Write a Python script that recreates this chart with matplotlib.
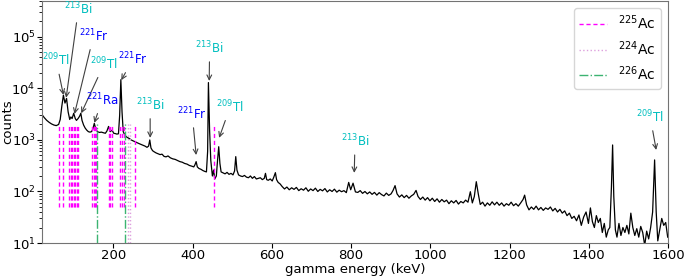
import numpy as np
import matplotlib
matplotlib.use("Agg")
import matplotlib.pyplot as plt

# spectrum (bin energy in keV, counts)
energy_low = [20, 26, 32, 38, 44, 50, 56, 62, 66, 70, 74, 78, 82, 86, 90, 93, 96, 100,
              104, 107, 111, 115, 118, 121, 125, 129, 133, 137, 141, 145, 148, 152, 156,
              160, 165, 170, 175, 180, 184, 188, 192, 197, 201, 205, 209, 213, 216, 219,
              222, 225, 229, 233, 237, 241, 245, 250, 255, 260, 265, 270, 275, 280, 285,
              289, 292, 295, 299]
counts_low = [3100, 2700, 2400, 2200, 2050, 1950, 1900, 2000, 2500, 4500, 7400, 5200,
              6400, 3500, 2500, 2800, 2600, 3300, 2600, 2400, 2600, 2900, 3300, 2400,
              1950, 1700, 1550, 1450, 1420, 1450, 1600, 2100, 1600, 1450, 1400, 1420,
              1380, 1350, 1500, 1830, 1450, 1550, 1350, 1330, 1300, 1320, 3000, 14800,
              3500, 1450, 1250, 1150, 1100, 1060, 1000, 960, 920, 880, 850, 820, 790,
              760, 720, 760, 1000, 700, 620]

energy_mid = [303, 308, 313, 318, 323, 328, 333, 338, 344, 350, 356, 362, 368, 374, 380,
              386, 392, 398, 403, 406, 409, 412, 416, 421, 426, 431, 435, 438, 440, 443,
              446, 450, 453, 456, 460, 463, 466, 469, 472, 477, 482, 487, 492, 497, 502,
              506, 509, 512, 516, 521, 526, 531, 536, 541, 546, 551, 556, 561, 566, 571,
              576, 581, 584, 587, 591, 596, 601, 605, 609, 612, 616, 621]
counts_mid = [590, 560, 540, 520, 530, 480, 470, 490, 450, 430, 420, 400, 380, 370, 350,
              340, 320, 310, 300, 330, 380, 300, 280, 270, 255, 245, 240, 600, 13000, 1500,
              400, 200, 260, 175, 200, 400, 740, 350, 240, 230, 220, 235, 215, 225, 210,
              250, 475, 260, 210, 200, 195, 205, 190, 185, 200, 180, 195, 175, 180, 185,
              170, 180, 225, 170, 165, 175, 160, 190, 232, 170, 150, 140]

energy_high = [626, 632, 638, 644, 650, 656, 662, 668, 674, 680, 686, 692, 698, 704, 710,
               716, 722, 728, 734, 740, 746, 752, 758, 764, 770, 776, 782, 788, 794, 799,
               805, 811, 817, 823, 829, 835, 841, 847, 853, 859, 865, 871, 877, 883, 889,
               895, 901, 906, 911, 916, 922, 928, 934, 940, 946, 952, 958, 964, 969, 975,
               981, 987, 993, 999, 1005, 1011, 1017, 1023, 1029, 1035, 1041, 1047, 1053,
               1059, 1065, 1071, 1077, 1083, 1089, 1095, 1101, 1106, 1111, 1116, 1121,
               1126, 1132, 1138, 1144, 1150, 1156, 1162, 1168, 1174, 1180, 1186, 1192,
               1198, 1204, 1210, 1216, 1222, 1228, 1234, 1238, 1243, 1249, 1255, 1261,
               1267, 1273, 1279, 1285, 1291, 1297, 1303, 1309, 1315, 1321, 1327, 1333,
               1339, 1345, 1351, 1357, 1363, 1369, 1375, 1381, 1387, 1393, 1399, 1404,
               1409, 1414, 1419, 1424, 1429, 1434, 1439, 1444, 1449, 1453, 1457, 1460,
               1463, 1467, 1471, 1476, 1481, 1486, 1491, 1496, 1501, 1506, 1511, 1516,
               1521, 1526, 1531, 1536, 1541, 1546, 1551, 1556, 1561, 1566, 1570, 1574,
               1579, 1584, 1589, 1594, 1599]
counts_high = [125, 112, 122, 108, 118, 110, 120, 104, 113, 106, 118, 101, 112, 104, 116,
               100, 110, 103, 114, 98, 108, 100, 111, 97, 106, 99, 104, 95, 150, 108,
               145, 98, 96, 104, 92, 100, 90, 98, 88, 96, 85, 95, 87, 82, 93,
               84, 90, 105, 130, 90, 78, 86, 76, 84, 74, 82, 88, 105, 80, 70,
               78, 68, 76, 66, 74, 64, 72, 62, 70, 63, 68, 58, 66,
               60, 67, 57, 64, 60, 68, 62, 99, 60, 80, 155, 90,
               56, 62, 52, 60, 54, 63, 55, 62, 54, 60, 52, 58,
               54, 62, 53, 58, 52, 60, 70, 85, 55, 44, 50, 45,
               52, 44, 49, 43, 48, 45, 50, 42, 47, 40, 45, 38,
               42, 34, 38, 30, 33, 27, 35, 22, 32, 40, 24, 48,
               26, 20, 34, 25, 30, 16, 24, 13, 18, 20, 120, 800,
               80, 18, 13, 24, 14, 20, 16, 22, 15, 38, 20, 14,
               19, 13, 21, 16, 9, 17, 12, 20, 40, 410, 40, 11,
               18, 30, 22, 25, 13]

# reference gamma lines (keV)
lines_225ac = [63, 74, 87, 92, 96, 100, 104, 108, 112, 146, 150, 154, 157, 188, 192, 196,
               218, 222, 226, 255, 453]
lines_224ac = [237, 241]
lines_226ac = [158, 230]

# peak labels: text, colour, text position (keV, counts), arrow tip (keV, counts)
peak_labels = [
    ("$^{209}$Tl", "c", (56, 35000), (74, 7500)),
    ("$^{213}$Bi", "c", (112, 350000), (81, 6600)),
    ("$^{221}$Fr", "b", (150, 105000), (102, 3200)),
    ("$^{209}$Tl", "c", (177, 30000), (119, 3300)),
    ("$^{221}$Ra", "b", (172, 6000), (152, 2150)),
    ("$^{221}$Fr", "b", (250, 37000), (220, 14500)),
    ("$^{213}$Bi", "c", (293, 4800), (293, 1100)),
    ("$^{213}$Bi", "c", (443, 61000), (442, 14000)),
    ("$^{221}$Fr", "b", (399, 3200), (409, 510)),
    ("$^{209}$Tl", "c", (495, 4400), (467, 1100)),
    ("$^{213}$Bi", "c", (810, 950), (808, 230)),
    ("$^{209}$Tl", "c", (1555, 2800), (1570, 640)),
]

energy = np.array(energy_low + energy_mid + energy_high)
counts = np.array(counts_low + counts_mid + counts_high)

fig = plt.figure(figsize=(6.85, 2.77), dpi=100)
ax = fig.add_axes([0.0613, 0.1227, 0.914, 0.874])

ax.plot(energy, counts, "k-", lw=0.9)

ax.vlines(lines_225ac, 50, 2000, colors="magenta", linestyles=(0, (3, 2)), lw=1.0, label="$^{225}$Ac")
ax.vlines(lines_224ac, 10, 2000, colors="plum", linestyles=":", lw=1.0, label="$^{224}$Ac")
ax.vlines(lines_226ac, 10, 2000, colors="mediumseagreen", linestyles="-.", lw=1.0, label="$^{226}$Ac")

for txt, col, xyt, xy in peak_labels:
    ax.annotate(txt, xy=xy, xytext=xyt, color=col, fontsize=8.5, ha="center", va="center",
                arrowprops=dict(arrowstyle="->", color="0.25", lw=0.8, shrinkA=2, shrinkB=0))

ax.set_yscale("log")
ax.set_xlim(20, 1600)
ax.set_ylim(10, 5e5)
ax.set_xticks([200, 400, 600, 800, 1000, 1200, 1400, 1600])
ax.tick_params(labelsize=9.5, pad=1)
ax.set_xlabel("gamma energy (keV)", fontsize=9.5)
ax.set_ylabel("counts", fontsize=9.5)
ax.xaxis.set_label_coords(0.5, -0.083)
ax.yaxis.set_label_coords(-0.045, 0.5)
for sp in ax.spines.values():
    sp.set_color("0.45")

ax.legend(loc="upper right", fontsize=10, handlelength=2.0)

fig.savefig("out.png", dpi=100)
